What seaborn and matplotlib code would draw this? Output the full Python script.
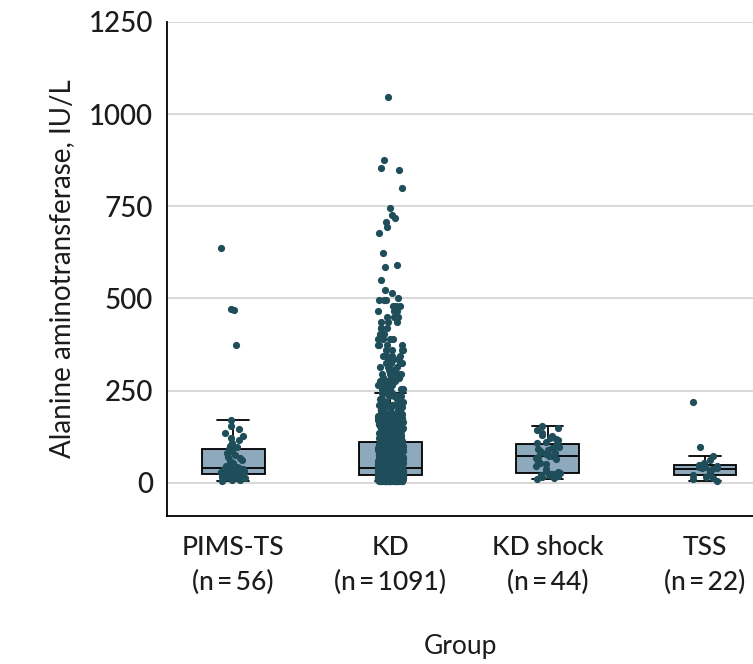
import numpy as np
import pandas as pd
import matplotlib
matplotlib.use("Agg")
import matplotlib.pyplot as plt
import seaborn as sns

# Groups on the x axis
groups = ["PIMS-TS", "KD", "KD shock", "TSS"]

# Alanine aminotransferase (IU/L) per patient
pims_ts_alt = [5, 7, 9, 10, 12, 13, 15, 16, 17, 18, 19, 20, 21, 22,
               23, 24, 26, 27, 28, 30, 31, 33, 34, 35, 37, 38, 40, 41,
               42, 44, 46, 48, 51, 54, 58, 62, 66, 70, 75, 80, 86, 92,
               96, 100, 108, 115, 122, 128, 136, 145, 155, 171,
               374, 469, 472, 637]

# KD cohort stored as value levels with patient counts
kd_alt_levels = [4, 6, 8, 10, 12, 14, 16, 18, 20,
                 23, 25, 27, 29, 31, 33, 35, 37, 39, 41,
                 45, 50, 55, 60, 65, 70, 75, 80, 85, 90, 95, 100, 105, 110,
                 114, 118, 122, 126, 130, 135, 140, 145, 150, 155,
                 160, 165, 170, 175, 180,
                 186, 192, 198, 205, 212,
                 220, 228, 236, 245,
                 255, 265, 275, 285,
                 295, 305, 315, 325, 335,
                 345, 360, 375, 390, 405, 420, 435, 450, 465, 480, 495,
                 502, 515, 523, 550, 586, 591, 624, 678, 694, 708, 719,
                 727, 746, 800, 849, 854, 876, 1047]
kd_alt_counts = [10, 18, 25, 30, 34, 36, 38, 40, 42,
                 30, 30, 29, 28, 28, 27, 26, 26, 24, 25,
                 26, 25, 24, 23, 22, 21, 20, 19, 18, 17, 16, 15, 14, 12,
                 11, 11, 11, 10, 10, 9, 9, 9, 8, 8,
                 7, 7, 7, 7, 6,
                 5, 5, 5, 5, 5,
                 5, 5, 5, 5,
                 5, 5, 5, 5,
                 5, 5, 4, 4, 4,
                 4, 4, 4, 4, 4, 3, 3, 3, 3, 3, 3,
                 1, 1, 1, 1, 1, 1, 1, 1, 1, 1, 1,
                 1, 1, 1, 1, 1, 1, 1]

kd_shock_alt = [11, 13, 15, 17, 18, 20, 21, 23, 24, 25, 26,
                28, 32, 38, 45, 50, 55, 60, 64, 67, 70, 72,
                74, 77, 80, 83, 86, 89, 92, 95, 98, 101, 104,
                108, 112, 115, 118, 122, 126, 130, 136, 142, 149, 155]

tss_alt = [5, 10, 14, 17, 20, 22, 24, 27, 30, 33, 37,
           39, 41, 42, 43, 45, 48, 55, 62, 73, 98, 220]

y_ticks = [0, 250, 500, 750, 1000, 1250]

kd_alt = np.repeat(kd_alt_levels, kd_alt_counts)
values = {"PIMS-TS": pims_ts_alt, "KD": kd_alt,
          "KD shock": kd_shock_alt, "TSS": tss_alt}
df = pd.DataFrame({
    "group": np.concatenate([[g] * len(values[g]) for g in groups]),
    "alt": np.concatenate([np.asarray(values[g], dtype=float) for g in groups]),
})
tick_labels = [f"{g}\n(n\u2009=\u2009{len(values[g])})" for g in groups]

sns.set_theme(style="white")
plt.rcParams["font.family"] = ["Lato", "DejaVu Sans"]
plt.rcParams["font.weight"] = "medium"
text_color = "#1c1c1c"

fig = plt.figure(figsize=(7.53, 6.64), dpi=100)
ax = fig.add_axes([167 / 753, 1 - 516 / 664, 1 - 167 / 753, (516 - 22) / 664])

box_color = "#8ea9bb"
point_color = "#1f4d5a"

sns.boxplot(data=df, x="group", y="alt", order=groups, width=0.4,
            color=box_color, saturation=1, linecolor="black", linewidth=1.3,
            showfliers=False, ax=ax)
np.random.seed(7)
sns.stripplot(data=df, x="group", y="alt", order=groups, color=point_color,
              size=5.2, jitter=0.08, linewidth=0, ax=ax, zorder=3)

ax.set_ylim(-90, 1250)
ax.set_xlim(-0.42, 3.305)
ax.set_yticks(y_ticks)
ax.set_yticklabels([str(t) for t in y_ticks])
ax.set_xticks(range(len(groups)))
ax.set_xticklabels(tick_labels, linespacing=1.45)

ax.yaxis.grid(True, color="#d6d6d6", linewidth=1.3)
ax.set_axisbelow(True)
for side in ["top", "right"]:
    ax.spines[side].set_visible(False)
for side in ["left", "bottom"]:
    ax.spines[side].set_color("black")
    ax.spines[side].set_linewidth(1.3)

ax.tick_params(axis="both", direction="out", length=7, width=1.2,
               color="black", labelcolor=text_color, pad=3)
ax.tick_params(axis="y", labelsize=20)
ax.tick_params(axis="x", labelsize=19, pad=7)

ax.set_xlabel("Group", fontsize=19, color=text_color, labelpad=28)
ax.set_ylabel("Alanine aminotransferase, IU/L", fontsize=20,
              color=text_color, labelpad=10)

fig.savefig("out.png", dpi=100)
